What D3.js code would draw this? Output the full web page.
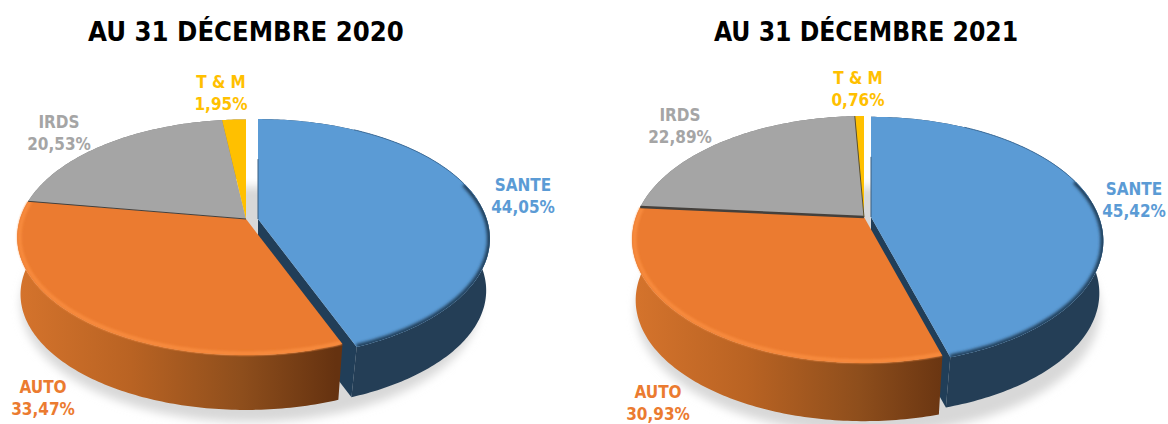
<!DOCTYPE html>
<html>
<head>
<meta charset="utf-8">
<style type="text/css">
	html, body { margin: 0; padding: 0; background: #fff; }
	svg { display: block; }
	text {
		font-family: "DejaVu Sans", sans-serif;
		font-stretch: condensed;
		font-weight: bold;
		text-anchor: middle;
	}
	.label { font-size: 17px; }
</style>
<script src="https://d3js.org/d3.v7.min.js"></script>
</head>
<body>
<script type="text/javascript">
var categories = ["SANTE", "AUTO", "IRDS", "T & M"];
var values2020 = [44.05, 33.47, 20.53, 1.95];
var values2021 = [45.42, 30.93, 22.89, 0.76];
var titles = ["AU 31 DÉCEMBRE 2020", "AU 31 DÉCEMBRE 2021"];
var colors = ["#5B9BD5", "#EB7B30", "#A5A5A5", "#FFC000"];

var color = d3.scaleOrdinal().domain(categories).range(colors);

// layout of each pie: k and h give the perspective of the tilted disc
var layouts = [
	{ id: "a", cx: 246, cy: 219, r: 226, h: 115, k: 0.155, drop: 61, blueDrop: 57, explode: 12, blueScale: 1.012, sep: 1, sepTop: 0,
	  titleX: 246, titleY: 41, titleSize: 27.2, labels: [[523, 191], [43, 393], [59, 128], [221, 88]], lineGap: 22 },
	{ id: "b", cx: 864, cy: 217, r: 228, h: 119.4, k: 0.182, drop: 65, blueDrop: 58, explode: 7, blueScale: 1, sep: 2.6, sepTop: 1,
	  titleX: 866, titleY: 41, titleSize: 26.2, labels: [[1134, 195], [658, 398], [680, 121], [858, 84]], lineGap: 22 }
];

var svg = d3.select("body").append("svg")
	.attr("width", 1168)
	.attr("height", 424);

var defs = svg.append("defs");
defs.append("filter").attr("id", "shadowBlur")
	.attr("x", "-20%").attr("y", "-20%").attr("width", "140%").attr("height", "140%")
	.append("feGaussianBlur").attr("stdDeviation", 5);
defs.append("filter").attr("id", "rimBlur")
	.attr("x", "-10%").attr("y", "-10%").attr("width", "120%").attr("height", "120%")
	.append("feGaussianBlur").attr("stdDeviation", 1.6);
defs.append("filter").attr("id", "lipBlur")
	.attr("x", "-10%").attr("y", "-10%").attr("width", "120%").attr("height", "120%")
	.append("feGaussianBlur").attr("stdDeviation", 1);

var pie = d3.pie().sort(null);
var path = d3.line();
var percent = function(v) { return v.toFixed(2).replace(".", ",") + "%"; };

function project(p, a, rad, dropY, dx) {
	var u = Math.sin(a) * rad;
	var v = -Math.cos(a) * rad;
	var w = 1 - p.k * v;
	return [p.cx + dx + u * p.r / w, p.cy + dropY + v * p.h / w];
}

function arcPoints(p, a0, a1, rad, dropY, dx) {
	var n = Math.max(2, Math.ceil(Math.abs(a1 - a0) * 60));
	return d3.range(n + 1).map(function(i) {
		return project(p, a0 + (a1 - a0) * i / n, rad, dropY, dx);
	});
}

function drawPie(p, values, title) {
	var g = svg.append("g");
	var slices = pie(values);

	var grad = defs.append("linearGradient")
		.attr("id", "autoSide" + p.id)
		.attr("gradientUnits", "userSpaceOnUse")
		.attr("x1", p.cx - p.r).attr("x2", p.cx + 90).attr("y1", 0).attr("y2", 0);
	grad.append("stop").attr("offset", "0").attr("stop-color", "#D4732C");
	grad.append("stop").attr("offset", "0.35").attr("stop-color", "#B96323");
	grad.append("stop").attr("offset", "0.7").attr("stop-color", "#8E4E1C");
	grad.append("stop").attr("offset", "1").attr("stop-color", "#653210");

	// the bottom of the disc is further away, so less perspective there
	var low = Object.assign({}, p, { k: p.k - 0.03 });

	// soft shadow on the page
	g.append("path")
		.attr("d", path(arcPoints(p, 0, 2 * Math.PI, 1.0, p.drop + 6, 4)) + "Z")
		.attr("fill", "#d8d8d8")
		.attr("filter", "url(#shadowBlur)");

	// the loose slice first, the rest sits over it
	var blue = slices[0];
	var bp = Object.assign({}, p, { r: p.r * p.blueScale, h: p.h * p.blueScale, k: p.k + 0.01 });
	var bl = Object.assign({}, low, { r: p.r * p.blueScale, h: p.h * p.blueScale });
	var blueTop = arcPoints(bp, blue.startAngle, blue.endAngle, 1, 0, p.explode);
	var blueBottom = arcPoints(bl, blue.startAngle, blue.endAngle, 0.99, p.blueDrop, p.explode);
	var apex = [p.cx + p.explode, p.cy];

	g.append("path")
		.attr("d", path(blueTop.concat(blueBottom.slice().reverse())) + "Z")
		.attr("fill", "#243E56");
	g.append("path")
		.attr("d", path([apex, blueTop[blueTop.length - 1], blueBottom[blueBottom.length - 1], [apex[0], apex[1] + p.blueDrop]]) + "Z")
		.attr("fill", "#213E58");
	g.append("path")
		.attr("d", path([apex].concat(blueTop)) + "Z")
		.attr("fill", color(categories[0]));

	// darkened front edge stays inside the top face
	defs.append("clipPath").attr("id", "blueFace" + p.id)
		.append("path")
		.attr("d", path([apex].concat(blueTop)) + "Z");
	g.append("g").attr("clip-path", "url(#blueFace" + p.id + ")")
		.append("path")
		.attr("d", path(arcPoints(bp, blue.startAngle + 1.25, blue.endAngle, 1, 0, p.explode)))
		.attr("fill", "none")
		.attr("stroke", "#24435F")
		.attr("stroke-width", 6)
		.attr("filter", "url(#rimBlur)");
	g.append("path")
		.attr("d", path(arcPoints(bp, blue.startAngle + 0.5, blue.startAngle + 1.4, 1, 0, p.explode)))
		.attr("fill", "none")
		.attr("stroke", "#3F6F9C")
		.attr("stroke-width", 1);
	g.append("path")
		.attr("d", path([[apex[0], blueTop[0][1] + 40], apex]))
		.attr("stroke", "#3A5F80")
		.attr("stroke-width", 1);

	var center = [p.cx, p.cy];

	// sides of the other slices
	slices.slice(1).forEach(function(s, i) {
		var top = arcPoints(p, s.startAngle, s.endAngle, 1, 0, 0);
		var bottom = arcPoints(low, s.startAngle, s.endAngle, 0.99, p.drop, 0);
		g.append("path")
			.attr("d", path(top.concat(bottom.slice().reverse())) + "Z")
			.attr("fill", i === 0 ? "url(#autoSide" + p.id + ")" : "#777");
	});

	// top faces
	slices.slice(1).forEach(function(s, i) {
		var top = arcPoints(p, s.startAngle, s.endAngle, 1, 0, 0);
		g.append("path")
			.attr("d", path([center].concat(top)) + "Z")
			.attr("fill", color(categories[i + 1]));
	});

	// bright lip on the front of the orange slice
	var auto = slices[1];
	defs.append("clipPath").attr("id", "autoFace" + p.id)
		.append("path")
		.attr("d", path([center].concat(arcPoints(p, auto.startAngle, auto.endAngle, 1.01, 0, 0))) + "Z");
	g.append("g").attr("clip-path", "url(#autoFace" + p.id + ")")
		.append("path")
		.attr("d", path(arcPoints(p, auto.startAngle, auto.endAngle, 0.99, 0, 0)))
		.attr("fill", "none")
		.attr("stroke", "#F78A3C")
		.attr("stroke-width", 4)
		.attr("filter", "url(#lipBlur)");

	// dark seams between the back slices
	g.append("path")
		.attr("d", path([center, project(p, auto.endAngle, 1, 0, 0)]))
		.attr("stroke", "#44403c")
		.attr("stroke-width", p.sep);
	if (p.sepTop) {
		g.append("path")
			.attr("d", path([center, project(p, slices[2].endAngle, 1, 0, 0)]))
			.attr("stroke", "#5a5030")
			.attr("stroke-width", p.sepTop);
	}

	g.append("text")
		.attr("x", p.titleX)
		.attr("y", p.titleY)
		.attr("font-size", p.titleSize)
		.attr("fill", "#000")
		.text(title);

	categories.forEach(function(c, i) {
		var pos = p.labels[i];
		g.append("text").attr("class", "label")
			.attr("x", pos[0]).attr("y", pos[1])
			.attr("fill", color(c))
			.text(c);
		g.append("text").attr("class", "label")
			.attr("x", pos[0]).attr("y", pos[1] + p.lineGap)
			.attr("fill", color(c))
			.text(percent(values[i]));
	});
}

drawPie(layouts[0], values2020, titles[0]);
drawPie(layouts[1], values2021, titles[1]);
</script>
</body>
</html>
